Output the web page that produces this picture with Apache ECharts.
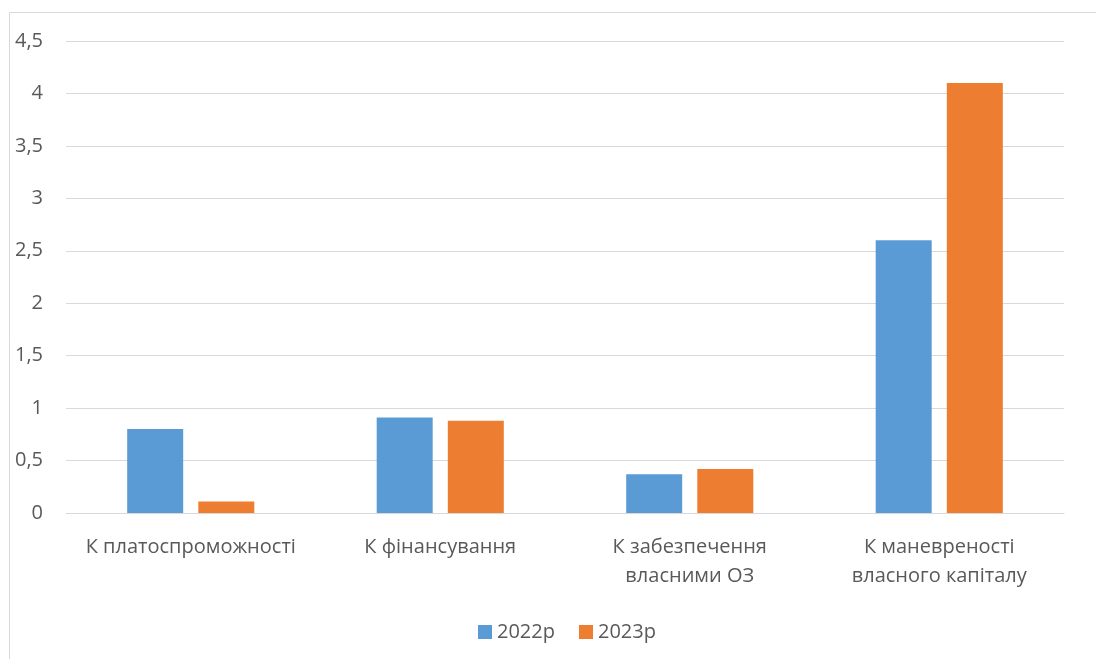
<!DOCTYPE html>
<html>
<head>
<meta charset="utf-8">
<script src="https://cdn.jsdelivr.net/npm/echarts@6/dist/echarts.min.js"></script>
<style>
  html, body { margin: 0; padding: 0; background: #fff; }
  #chart { width: 1096px; height: 659px; }
</style>
</head>
<body>
<div id="chart"></div>
<script>
const categories = [
  'К платоспроможності',
  'К фінансування',
  'К забезпечення\nвласними ОЗ',
  'К маневреності\nвласного капіталу',
];
const values2022 = [0.8, 0.91, 0.37, 2.6];
const values2023 = [0.11, 0.88, 0.42, 4.1];

const myChart = echarts.init(document.getElementById('chart'));
const fontFamily = '"Open Sans", "Noto Sans", sans-serif';

myChart.setOption({
  animation: false,
  textStyle: { fontFamily: fontFamily },
  // рамка області діаграми
  graphic: [
    {
      type: 'rect',
      shape: { x: 9.5, y: 12.5, width: 1200, height: 800 },
      style: { fill: 'none', stroke: '#d9d9d9', lineWidth: 1 },
      silent: true,
    },
  ],
  grid: {
    left: 66,
    right: 32,
    top: 41,
    bottom: 146,
    containLabel: false,
  },
  legend: {
    top: 617,
    left: 473,
    icon: 'rect',
    itemWidth: 14,
    itemHeight: 14,
    itemGap: 24,
    textStyle: { fontSize: 20, color: '#595959', fontFamily: fontFamily },
    data: ['2022р', '2023р'],
  },
  xAxis: {
    type: 'category',
    data: categories,
    axisLine: { lineStyle: { color: '#d9d9d9' } },
    axisTick: { show: false },
    axisLabel: {
      color: '#595959',
      fontSize: 20,
      lineHeight: 29,
      margin: 20,
      interval: 0,
    },
  },
  yAxis: {
    type: 'value',
    min: 0,
    max: 4.5,
    interval: 0.5,
    axisLine: { show: false },
    axisTick: { show: false },
    splitLine: { lineStyle: { color: '#d9d9d9', width: 1 } },
    axisLabel: {
      color: '#595959',
      fontSize: 20,
      margin: 23,
      formatter: (v) => String(v).replace('.', ','),
    },
  },
  series: [
    {
      name: '2022р',
      type: 'bar',
      data: values2022,
      barWidth: 56,
      barGap: '27%',
      itemStyle: { color: '#5b9bd5' },
    },
    {
      name: '2023р',
      type: 'bar',
      data: values2023,
      barWidth: 56,
      itemStyle: { color: '#ed7d31' },
    },
  ],
});
window.onresize = function () {
  myChart.resize();
};
</script>
</body>
</html>
